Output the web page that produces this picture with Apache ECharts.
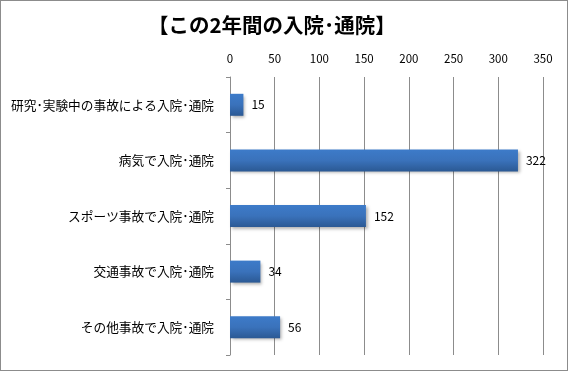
<!DOCTYPE html>
<html><head><meta charset="utf-8">
<script src="https://cdn.jsdelivr.net/npm/echarts@6/dist/echarts.min.js"></script>
<style>html,body{margin:0;padding:0;background:#fff}#c{width:568px;height:371px;box-sizing:border-box;border:1px solid #8c8c8c}</style>
</head><body><div id="c"></div>
<script>
const categories = ['研究･実験中の事故による入院･通院','病気で入院･通院','スポーツ事故で入院･通院','交通事故で入院･通院','その他事故で入院･通院'];
const values = [15, 322, 152, 34, 56];
const tickMax = 350;
const tickStep = 50;
const chart = echarts.init(document.getElementById('c'), null, {renderer:'canvas'});
const font = '"Noto Sans CJK JP","Noto Sans",sans-serif';
chart.setOption({
  animation:false,
  title:{text:'【この2年間の入院･通院】',left:142,top:9,textStyle:{fontFamily:font,fontSize:20.5,fontWeight:'bold',color:'#000'}},
  grid:{left:229,right:24,top:76,bottom:15,containLabel:false},
  xAxis:{type:'value',position:'top',min:0,max:tickMax,interval:tickStep,
    axisLine:{show:false},axisTick:{show:false},
    axisLabel:{fontFamily:font,fontSize:11.5,color:'#000',margin:13},
    splitLine:{lineStyle:{color:'#8c8c8c',width:1}}},
  yAxis:{type:'category',data:categories,inverse:true,
    axisLine:{lineStyle:{color:'#8c8c8c'}},
    axisTick:{show:true,length:4,lineStyle:{color:'#8c8c8c'}},
    axisLabel:{fontFamily:font,fontSize:12.7,color:'#000',margin:16}},
  series:[{type:'bar',data:values,barWidth:22,
    itemStyle:{color:new echarts.graphic.LinearGradient(0,0,0,1,[{offset:0,color:'#3d7bc9'},{offset:0.5,color:'#3a72bb'},{offset:1,color:'#2b5994'}]),
      shadowColor:'rgba(0,0,0,0.3)',shadowBlur:3,shadowOffsetX:2,shadowOffsetY:2},
    label:{show:true,position:'right',distance:8,fontFamily:font,fontSize:12,color:'#000'}}]
});
</script></body></html>
